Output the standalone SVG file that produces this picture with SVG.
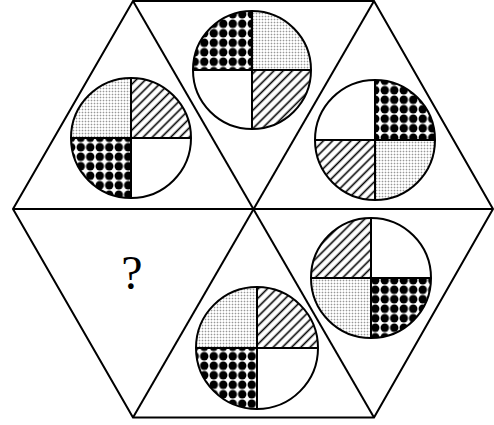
<svg xmlns="http://www.w3.org/2000/svg" width="494" height="425" viewBox="0 0 494 425">
<defs>
<pattern id="hatch" patternUnits="userSpaceOnUse" width="6.5" height="6.5" patternTransform="rotate(-45)">
<rect width="6.5" height="6.5" fill="#fff"/>
<line x1="0" y1="3.25" x2="6.5" y2="3.25" stroke="#000" stroke-width="1.6"/>
</pattern>
<pattern id="dots" patternUnits="userSpaceOnUse" width="9.5" height="9.5">
<rect width="9.5" height="9.5" fill="#fff"/>
<circle cx="4.75" cy="4.75" r="4.2" fill="#000"/>
</pattern>
<pattern id="fine" patternUnits="userSpaceOnUse" width="3" height="3">
<rect width="3" height="3" fill="#fff"/>
<rect x="1" y="0" width="1" height="3" fill="#e2e2e2"/>
<rect x="0" y="1" width="3" height="1" fill="#e2e2e2"/>
<rect x="1" y="1" width="1" height="1" fill="#999"/>
</pattern>
<style>
.ln{stroke:#000;stroke-width:2;fill:none;stroke-linejoin:miter}
.c{stroke:#000;stroke-width:2;fill:none}
.q{stroke:none}
</style>
</defs>
<rect width="494" height="425" fill="#fff"/>
<g id="hexagon">
<polygon class="ln" points="133,1 374,1 493,209 374,417.5 133,417.5 13,209"/>
<line class="ln" x1="13" y1="209" x2="493" y2="209"/>
<line class="ln" x1="133" y1="1" x2="374" y2="417.5"/>
<line class="ln" x1="374" y1="1" x2="133" y2="417.5"/>
</g>
<g id="circle-top">
<path class="q" fill="url(#dots)" d="M252,70 L193,70 A59,59 0 0 1 252,11 Z"/>
<path class="q" fill="url(#fine)" d="M252,70 L252,11 A59,59 0 0 1 311,70 Z"/>
<path class="q" fill="url(#hatch)" d="M252,70 L311,70 A59,59 0 0 1 252,129 Z"/>
<circle class="c" cx="252" cy="70" r="59"/>
<line class="ln" x1="193" y1="70" x2="311" y2="70"/>
<line class="ln" x1="252" y1="11" x2="252" y2="129"/>
</g>
<g id="circle-upper-left">
<path class="q" fill="url(#fine)" d="M131,138 L71,138 A60,60 0 0 1 131,78 Z"/>
<path class="q" fill="url(#hatch)" d="M131,138 L131,78 A60,60 0 0 1 191,138 Z"/>
<path class="q" fill="url(#dots)" d="M131,138 L131,198 A60,60 0 0 1 71,138 Z"/>
<circle class="c" cx="131" cy="138" r="60"/>
<line class="ln" x1="71" y1="138" x2="191" y2="138"/>
<line class="ln" x1="131" y1="78" x2="131" y2="198"/>
</g>
<g id="circle-upper-right">
<path class="q" fill="url(#dots)" d="M375,140 L375,80 A60,60 0 0 1 435,140 Z"/>
<path class="q" fill="url(#fine)" d="M375,140 L435,140 A60,60 0 0 1 375,200 Z"/>
<path class="q" fill="url(#hatch)" d="M375,140 L375,200 A60,60 0 0 1 315,140 Z"/>
<circle class="c" cx="375" cy="140" r="60"/>
<line class="ln" x1="315" y1="140" x2="435" y2="140"/>
<line class="ln" x1="375" y1="80" x2="375" y2="200"/>
</g>
<g id="circle-lower-right">
<path class="q" fill="url(#hatch)" d="M371,278 L311,278 A60,60 0 0 1 371,218 Z"/>
<path class="q" fill="url(#dots)" d="M371,278 L431,278 A60,60 0 0 1 371,338 Z"/>
<path class="q" fill="url(#fine)" d="M371,278 L371,338 A60,60 0 0 1 311,278 Z"/>
<circle class="c" cx="371" cy="278" r="60"/>
<line class="ln" x1="311" y1="278" x2="431" y2="278"/>
<line class="ln" x1="371" y1="218" x2="371" y2="338"/>
</g>
<g id="circle-bottom">
<path class="q" fill="url(#fine)" d="M257,348 L196,348 A61,61 0 0 1 257,287 Z"/>
<path class="q" fill="url(#hatch)" d="M257,348 L257,287 A61,61 0 0 1 318,348 Z"/>
<path class="q" fill="url(#dots)" d="M257,348 L257,409 A61,61 0 0 1 196,348 Z"/>
<circle class="c" cx="257" cy="348" r="61"/>
<line class="ln" x1="196" y1="348" x2="318" y2="348"/>
<line class="ln" x1="257" y1="287" x2="257" y2="409"/>
</g>
<g id="question">
<text x="132" y="289" font-family="Liberation Serif, serif" font-size="48" text-anchor="middle" fill="#000">?</text>
</g>
</svg>
